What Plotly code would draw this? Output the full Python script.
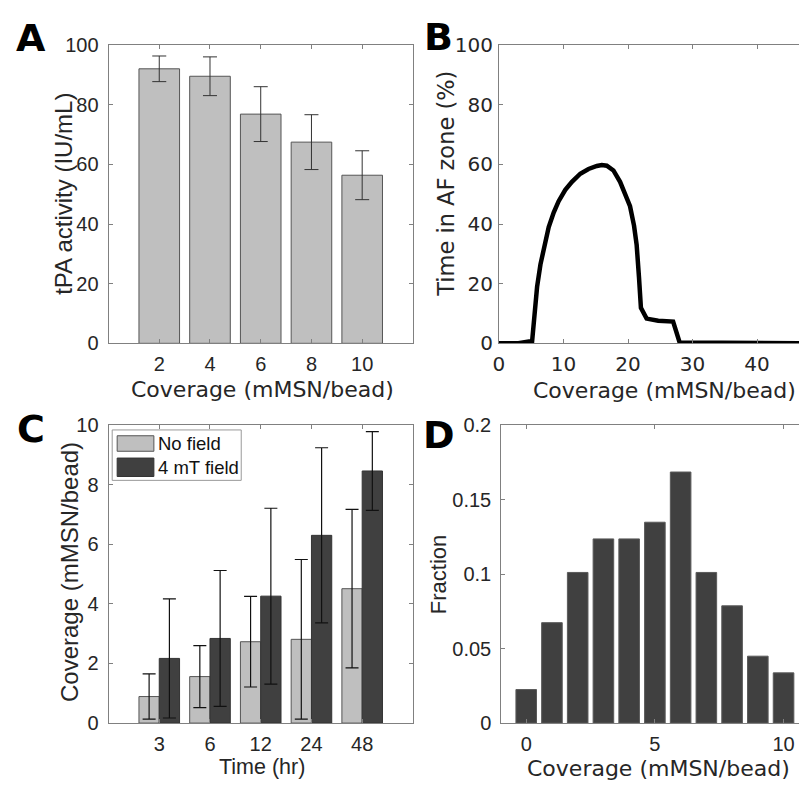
import plotly.graph_objects as go

# ---------------- data ----------------
# Panel A
A_coverage = [2, 4, 6, 8, 10]
A_tpa = [92.1, 89.6, 76.9, 67.5, 56.4]
A_err = [4.3, 6.5, 9.2, 9.2, 8.2]

# Panel B
B_cov = [0, 3, 5.14, 5.55, 5.91, 6.43, 6.94, 7.71, 8.48, 9.25, 10.28, 11.31, 12.6, 13.88,
         15.17, 15.94, 16.71, 17.74, 18.77, 19.54, 20.31, 20.93, 21.34, 21.7, 22.0, 22.88,
         24.68, 26.99, 28.0, 50]
B_time = [0, 0, 0.76, 10.3, 19.0, 26.5, 32.0, 39.0, 43.9, 47.7, 51.5, 54.2, 56.9, 58.5,
          59.5, 59.8, 59.6, 58.0, 54.2, 50.4, 46.0, 39.5, 33.0, 22.2, 11.9, 8.3,
          7.6, 7.3, 0.3, 0]

# Panel C
C_times = ["3", "6", "12", "24", "48"]
C_nofield = [0.89, 1.56, 2.73, 2.81, 4.51]
C_nofield_err = [0.76, 1.04, 1.52, 2.68, 2.66]
C_field = [2.17, 2.84, 4.26, 6.30, 8.46]
C_field_err = [2.0, 2.28, 2.95, 2.94, 1.32]

# Panel D
D_cov = [0, 1, 2, 3, 4, 5, 6, 7, 8, 9, 10]
D_frac = [0.0225, 0.0674, 0.1011, 0.1236, 0.1236, 0.1348, 0.1685, 0.1011, 0.0787, 0.0449, 0.0337]

# ---------------- layout helpers ----------------
W, H = 799, 792
def fx(px): return px / W
def fy(py): return 1 - py / H

ARIAL = "Liberation Sans, Arial, sans-serif"
DEJAVU = "DejaVu Sans, Verdana, sans-serif"
AX = "#808080"
TXT = "#262626"
LIGHT = "#bfbfbf"
DARK = "#404040"

fig = go.Figure()

# A
fig.add_trace(go.Bar(x=A_coverage, y=A_tpa, width=1.6, marker=dict(color=LIGHT, line=dict(color="#555555", width=1)),
                     error_y=dict(type="data", array=A_err, color="#333333", thickness=1, width=7),
                     xaxis="x", yaxis="y", showlegend=False, name="tPA"))
# B
fig.add_trace(go.Scatter(x=B_cov, y=B_time, mode="lines", line=dict(color="black", width=4.5),
                         xaxis="x2", yaxis="y2", showlegend=False, name="AF"))
# C
C_pos = [1, 2, 3, 4, 5]
fig.add_trace(go.Bar(x=C_pos, y=C_nofield, name="No field", offsetgroup="a",
                     marker=dict(color=LIGHT, line=dict(color="#555555", width=1)),
                     error_y=dict(type="data", array=C_nofield_err, color="#111111", thickness=1.2, width=6.5),
                     xaxis="x3", yaxis="y3", showlegend=False))
fig.add_trace(go.Bar(x=C_pos, y=C_field, name="4 mT field", offsetgroup="b",
                     marker=dict(color=DARK, line=dict(color="#333333", width=1)),
                     error_y=dict(type="data", array=C_field_err, color="#111111", thickness=1.2, width=6.5),
                     xaxis="x3", yaxis="y3", showlegend=False))
# D
fig.add_trace(go.Bar(x=D_cov, y=D_frac, width=0.8, marker=dict(color=DARK, line=dict(color="#5a5a5a", width=1)),
                     xaxis="x4", yaxis="y4", showlegend=False, name="Fraction"))

def xax(domain, rng, tickvals, ticktext, font, anchor, size=20, standoff=3):
    return dict(domain=domain, range=rng, tickvals=tickvals, ticktext=ticktext, anchor=anchor,
                showline=True, linecolor=AX, linewidth=1, mirror="ticks", ticks="inside", ticklen=4,
                tickcolor=AX, showgrid=False, zeroline=False, ticklabelstandoff=standoff,
                tickfont=dict(family=font, size=size, color=TXT))

def yax(domain, rng, tickvals, ticktext, font, anchor, mirror, size=20, standoff=5):
    return dict(domain=domain, range=rng, tickvals=tickvals, ticktext=ticktext, anchor=anchor,
                showline=True, linecolor=AX, linewidth=1, mirror=mirror, ticks="inside", ticklen=4,
                tickcolor=AX, showgrid=False, zeroline=False, ticklabelstandoff=standoff,
                tickfont=dict(family=font, size=size, color=TXT))

xA = [fx(103.3), fx(410)]
yA = [fy(341.7), fy(34.3)]
xB = [fx(496.7), 1.0]
xC = xA
yC = [fy(733.3), fy(426)]
xD = [fx(499), 1.0]

fig.update_layout(
    width=W, height=H, margin=dict(l=0, r=0, t=0, b=0),
    paper_bgcolor="white", plot_bgcolor="white",
    barmode="group", bargap=0.2, bargroupgap=0,
    xaxis=xax(xA, [0, 12], A_coverage, [str(v) for v in A_coverage], ARIAL, "y"),
    yaxis=yax(yA, [0, 100], [0, 20, 40, 60, 80, 100], ["0", "20", "40", "60", "80", "100"], ARIAL, "x", "ticks"),
    xaxis2=xax(xB, [0, 46.5], [0, 10, 20, 30, 40], ["0", "10", "20", "30", "40"], DEJAVU, "y2"),
    yaxis2=yax(yA, [0, 100], [0, 20, 40, 60, 80, 100], ["0", "20", "40", "60", "80", "100"], DEJAVU, "x2", False, standoff=1),
    xaxis3=xax(xC, [0, 6], C_pos, C_times, ARIAL, "y3"),
    yaxis3=yax(yC, [0, 10], [0, 2, 4, 6, 8, 10], ["0", "2", "4", "6", "8", "10"], ARIAL, "x3", "ticks"),
    xaxis4=xax(xD, [-0.97, 10.6], [0, 5, 10], ["0", "5", "10"], ARIAL, "y4"),
    yaxis4=yax(yC, [0, 0.2], [0, 0.05, 0.1, 0.15, 0.2], ["0", "0.05", "0.1", "0.15", "0.2"], ARIAL, "x4", False),
)

ann = []
def text(s, x, y, size, family, angle=0, xanchor="center", yanchor="middle", color=TXT, bold=False):
    ann.append(dict(text=("<b>%s</b>" % s) if bold else s, x=fx(x), y=fy(y), xref="paper", yref="paper",
                    showarrow=False, textangle=angle, xanchor=xanchor, yanchor=yanchor,
                    font=dict(family=family, size=size, color=color)))

# axis titles
text("tPA activity (IU/mL)", 58, 188, 24, ARIAL, -90)
text("Coverage (mMSN/bead)", 258, 389, 22, DEJAVU)
text("Time in AF zone (%)", 442.5, 177, 22.5, DEJAVU, -90)
text("Coverage (mMSN/bead)", 663, 390, 22, DEJAVU)
text("Coverage (mMSN/bead)", 64, 578, 24, ARIAL, -90)
text("Time (hr)", 257.5, 779, 21.5, ARIAL)
text("Fraction", 436, 580, 22, ARIAL, -90)
text("Coverage (mMSN/bead)", 657.5, 780, 22, DEJAVU)

# panel letters
text("A", 25, 27, 38, DEJAVU, color="black", bold=True)
text("B", 435.5, 26, 38, DEJAVU, color="black", bold=True)
text("C", 25.5, 430, 38, DEJAVU, color="black", bold=True)
text("D", 436, 436, 38, DEJAVU, color="black", bold=True)

# legend for C (manual)
shapes = [
    dict(type="rect", xref="paper", yref="paper", x0=fx(107), x1=fx(237), y0=fy(483), y1=fy(431),
         line=dict(color="#999999", width=1), fillcolor="white"),
    dict(type="rect", xref="paper", yref="paper", x0=fx(112), x1=fx(149), y0=fy(453), y1=fy(437),
         line=dict(color="#555555", width=1), fillcolor=LIGHT),
    dict(type="rect", xref="paper", yref="paper", x0=fx(112), x1=fx(149), y0=fy(479), y1=fy(460),
         line=dict(color="#333333", width=1), fillcolor=DARK),
]
text("No field", 151, 445, 18.5, ARIAL, xanchor="left", color="#111111")
text("4 mT field", 151, 470, 18.5, ARIAL, xanchor="left", color="#111111")

fig.update_layout(annotations=ann, shapes=shapes)
fig.write_html("out.html")
